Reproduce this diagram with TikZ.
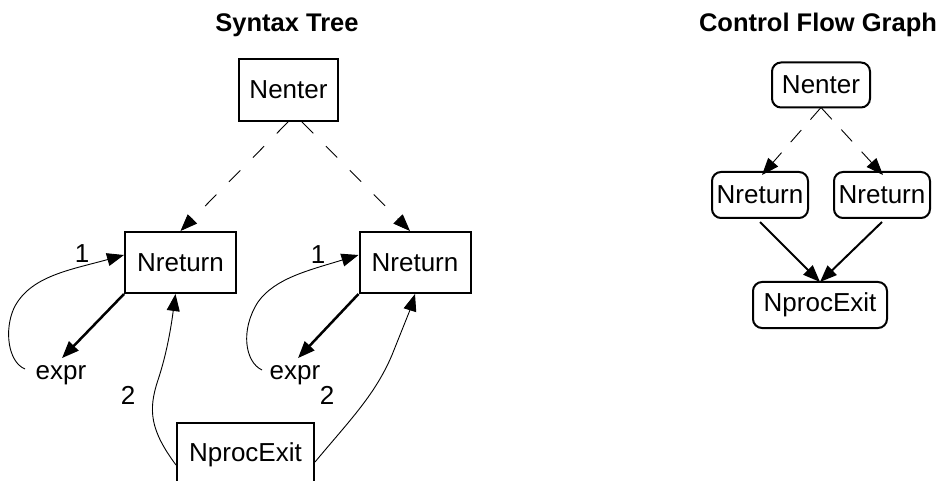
\documentclass[tikz,border=0pt]{standalone}
\usepackage{fontspec}
\setmainfont{Liberation Sans}
\usetikzlibrary{arrows.meta}
\tikzset{
  lbl/.style={font=\fontsize{26}{30}\selectfont, inner sep=0pt},
  ttl/.style={font=\fontsize{25.5}{30}\selectfont\bfseries, inner sep=0pt},
  sqbox/.style={draw, line width=2pt, inner sep=0pt, font=\fontsize{26}{30}\selectfont},
  rbox/.style={draw, line width=2pt, rounded corners=9pt, inner sep=0pt, font=\fontsize{26}{30}\selectfont},
  tip/.style={-{Triangle[length=17pt,width=13pt]}},
  dasharrow/.style={tip, line width=0.9pt, dash pattern=on 16pt off 18pt},
  thickarrow/.style={tip, line width=2.5pt},
  thinarrow/.style={tip, line width=0.9pt},
}
\begin{document}
\begin{tikzpicture}[x=1pt,y=-1pt]
\useasboundingbox (0,0) rectangle (943,481);
% titles
\node[ttl] (t1) at (287,25) {Syntax Tree};
\node[ttl] (t2) at (818,25) {Control Flow Graph};
% syntax tree nodes
\node[sqbox, minimum width=99pt, minimum height=62pt] (enter) at (288.5,90) {Nenter};
\node[sqbox, minimum width=111pt, minimum height=61pt] (retL) at (180.5,262.5) {Nreturn};
\node[sqbox, minimum width=111pt, minimum height=61pt] (retR) at (415,262.5) {Nreturn};
\node[sqbox, minimum width=137pt, minimum height=64pt] (exitS) at (245.5,455) {NprocExit};
\node[lbl] (exprL) at (61,375) {expr};
\node[lbl] (exprR) at (295,375) {expr};
\node[lbl] (oneL) at (82,254) {1};
\node[lbl] (oneR) at (318,255) {1};
\node[lbl] (twoL) at (128,395) {2};
\node[lbl] (twoR) at (327,395) {2};
% dashed arrows
\draw[dasharrow] ([xshift=-0.5pt]enter.south) -- (retL.north);
\draw[dasharrow] ([xshift=13.5pt]enter.south) -- ([xshift=-5pt]retR.north);
% thick arrows to expr
\draw[thickarrow] (retL.south west) -- ([xshift=1pt,yshift=7pt]exprL.north);
\draw[thickarrow] (retR.south west) -- ([xshift=3pt,yshift=7pt]exprR.north);
% curves 1
\coordinate (c1L) at (25,369);
\coordinate (c1R) at (262,370);
\draw[thinarrow] (c1L) .. controls (8,362) and (4,330) .. (14,308) .. controls (30,276) and (70,270) .. ([yshift=7.5pt]retL.west);
\draw[thinarrow] (c1R) .. controls (245,362) and (240,330) .. (258,302) .. controls (275,278) and (310,270) .. ([yshift=7.5pt]retR.west);
% curves 2
\draw[thinarrow] ([yshift=-10pt]exitS.west) .. controls (150,430) and (148,410) .. (158,380) .. controls (168,350) and (172,320) .. ([xshift=-5pt]retL.south);
\draw[thinarrow] ([yshift=-7pt]exitS.east) .. controls (350,420) and (375,395) .. (392,355) .. controls (402,330) and (410,310) .. (retR.south);
% control flow graph
\node[rbox, minimum width=98pt, minimum height=45pt] (cEnter) at (821,85) {Nenter};
\node[rbox, minimum width=96pt, minimum height=46pt] (cRetL) at (760,195) {Nreturn};
\node[rbox, minimum width=96pt, minimum height=46pt] (cRetR) at (882,195) {Nreturn};
\node[rbox, minimum width=134pt, minimum height=46pt] (cExit) at (820,305) {NprocExit};
\draw[dasharrow, dash pattern=on 16pt off 14pt] ([yshift=1pt]cEnter.south) -- ([xshift=2pt,yshift=-4pt]cRetL.north);
\draw[dasharrow, dash pattern=on 16pt off 14pt] ([yshift=1pt]cEnter.south) -- ([xshift=1pt,yshift=-4pt]cRetR.north);
\draw[thickarrow, line width=2pt] ([yshift=-3pt]cRetL.south) -- ([yshift=-1pt]cExit.north);
\draw[thickarrow, line width=2pt] ([yshift=-3pt]cRetR.south) -- ([yshift=-1pt]cExit.north);
\end{tikzpicture}
\end{document}
